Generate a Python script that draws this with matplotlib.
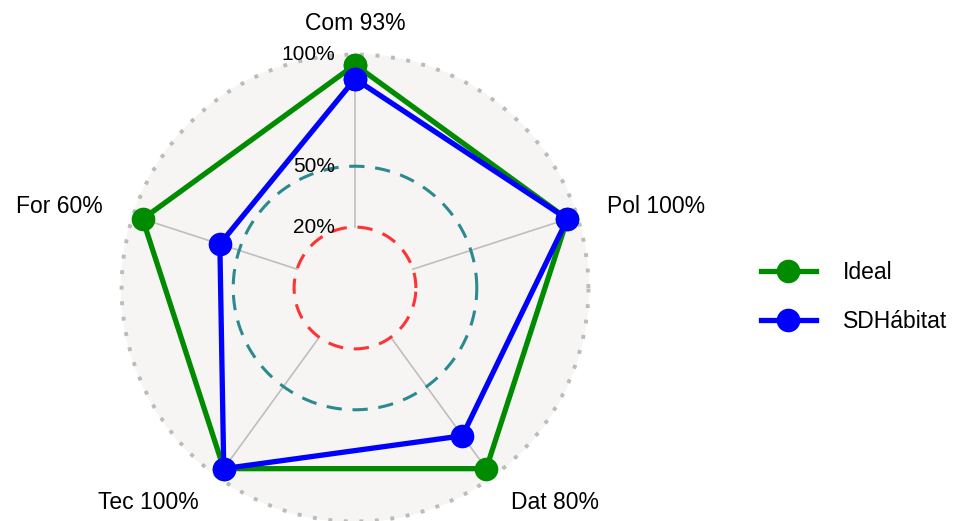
import numpy as np
import matplotlib
matplotlib.use("Agg")
import matplotlib.pyplot as plt

plt.rcParams['font.family'] = ['Liberation Sans', 'DejaVu Sans']

axis_names = ["Com", "Pol", "Dat", "Tec", "For"]
ideal = [1.0, 1.0, 1.0, 1.0, 1.0]
sdhabitat = [0.93, 1.0, 0.80, 1.0, 0.60]
grid_values = [0.2, 0.5, 1.05]
grid_labels = ["20%", "50%", "100%"]

offset = 0.1          # centre offset (value 0 sits a bit off the centre)
px = 203.0            # pixels per unit
W, H = 958, 521
cx, cy = 355, 288

angles = np.pi / 2 - np.arange(len(axis_names)) * 2 * np.pi / len(axis_names)


def to_xy(vals):
    r = np.array(vals) + offset
    return r * np.cos(angles), r * np.sin(angles)


fig = plt.figure(figsize=(W / 100, H / 100), dpi=100)
ax = fig.add_axes([0, 0, 1, 1])
ax.set_xlim(-cx / px, (W - cx) / px)
ax.set_ylim(-(H - cy) / px, cy / px)
ax.set_aspect('equal')
ax.axis('off')

t = np.linspace(0, 2 * np.pi, 400)
rb = 1.05 + offset
ax.fill(rb * np.cos(t), rb * np.sin(t), color="#F6F5F3", zorder=0)
ax.plot(rb * np.cos(t), rb * np.sin(t), color="#BBBBBB", lw=2.8,
        linestyle=(0, (1, 3)), zorder=1)

# axis lines
r0, r1 = 0.2 + offset, 1.0 + offset
for a in angles:
    ax.plot([r0 * np.cos(a), r1 * np.cos(a)], [r0 * np.sin(a), r1 * np.sin(a)],
            color="#BEBEBE", lw=1.2, zorder=2)

# grid circles
ax.plot((0.2 + offset) * np.cos(t), (0.2 + offset) * np.sin(t), color="#FF3333",
        lw=2.2, linestyle=(0, (5, 3.5)), zorder=2)
ax.plot((0.5 + offset) * np.cos(t), (0.5 + offset) * np.sin(t), color="#2A8A90",
        lw=2.2, linestyle=(0, (5, 3.5)), zorder=2)

for v, lab in zip(grid_values, grid_labels):
    ax.text(-20 / px, v + offset, lab, ha='right', va='center', fontsize=15, zorder=5)

# series
for vals, col, name in [(ideal, "#008B00", "Ideal"), (sdhabitat, "#0000FF", "SDHábitat")]:
    x, y = to_xy(vals)
    ax.plot(np.append(x, x[0]), np.append(y, y[0]), color=col, lw=3.8,
            marker='o', markersize=16, label=name, zorder=4)

# axis labels
lab_r = 265 / px
for name, v, a in zip(axis_names, sdhabitat, angles):
    xx, yy = lab_r * np.cos(a), lab_r * np.sin(a)
    if abs(np.cos(a)) < 0.1:
        ha = 'center'
    elif np.cos(a) > 0:
        ha = 'left'
    else:
        ha = 'right'
    ax.text(xx, yy, f"{name} {int(round(v * 100))}%", ha=ha, va='center', fontsize=16.5)

fig.legend(loc='center left', bbox_to_anchor=(740 / W, 1 - 297 / H), frameon=False,
           fontsize=16.5, handlelength=2.4, labelspacing=1.1, handletextpad=1.2)

fig.savefig("out.png", dpi=100)
